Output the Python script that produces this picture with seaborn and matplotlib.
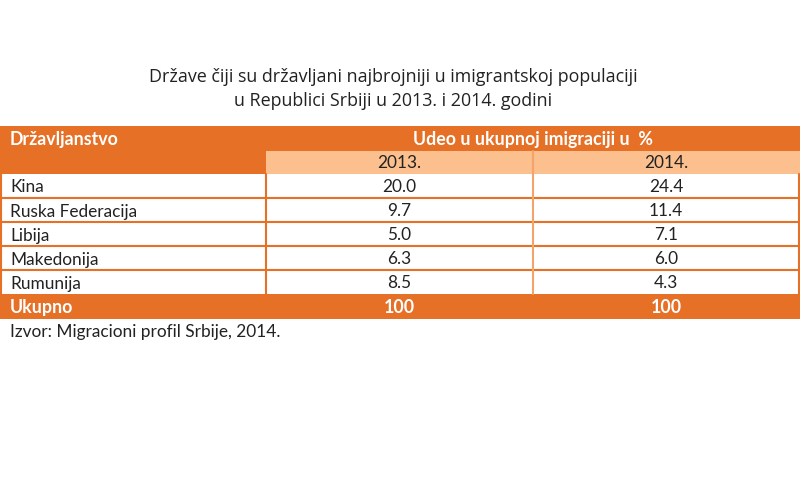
import matplotlib
matplotlib.use("Agg")
import matplotlib.pyplot as plt
from matplotlib.patches import Rectangle
import seaborn as sns

sns.set_theme(style="white")

title_lines = ["Države čiji su državljani najbrojniji u imigrantskoj populaciji",
               "u Republici Srbiji u 2013. i 2014. godini"]
header_first = "Državljanstvo"
header_group = "Udeo u ukupnoj imigraciji u  %"
years = ["2013.", "2014."]
countries = ["Kina", "Ruska Federacija", "Libija", "Makedonija", "Rumunija"]
values_2013 = [20.0, 9.7, 5.0, 6.3, 8.5]
values_2014 = [24.4, 11.4, 7.1, 6.0, 4.3]
total_label = "Ukupno"
totals = ["100", "100"]
source = "Izvor: Migracioni profil Srbije, 2014."

DARK = "#E57026"
LIGHT = "#FBC08E"
MID = "#F3A46C"
TABLE_FONT = "Lato"
TITLE_FONT = "Open Sans"
FS = 12.4
FSB = 12.8
DY = 1.5

fig = plt.figure(figsize=(8, 5), dpi=100)
ax = fig.add_axes([0, 0, 1, 1])
ax.set_xlim(0, 800)
ax.set_ylim(500, 0)
ax.axis("off")

col_x = [0, 266, 533, 799]
col_c = [(col_x[i] + col_x[i + 1]) / 2 for i in range(3)]
top = 126
hdr_h = 24
row_h = 24

# title
for i, line in enumerate(title_lines):
    ax.text(393, 77 + 24 * i, line, ha="center", va="center", fontsize=12.9,
            family=TITLE_FONT, color="#222222")

# header
ax.add_patch(Rectangle((0, top), 800, 2 * hdr_h, color=DARK, lw=0))
ax.add_patch(Rectangle((col_x[1], top + hdr_h + 1), 800 - col_x[1], hdr_h - 1, color=LIGHT, lw=0))
ax.plot([col_x[2], col_x[2]], [top + hdr_h + 1, top + 2 * hdr_h], color=MID, lw=1.5)
ax.text(10, top + hdr_h / 2 + DY, header_first, ha="left", va="center", fontsize=FSB,
        weight="bold", color="white", family=TABLE_FONT)
ax.text(col_x[2], top + hdr_h / 2 + DY, header_group, ha="center", va="center", fontsize=FSB,
        weight="bold", color="white", family=TABLE_FONT)
for j, y in enumerate(years):
    ax.text(col_c[j + 1], top + 1.5 * hdr_h + DY, y, ha="center", va="center", fontsize=FS,
            color="#222222", family=TABLE_FONT)

# data rows
y0 = top + 2 * hdr_h
n = len(countries)
for i, (c, a, b) in enumerate(zip(countries, values_2013, values_2014)):
    yc = y0 + row_h * (i + 0.5) + DY
    ax.text(10, yc, c, ha="left", va="center", fontsize=FS, color="#222222", family=TABLE_FONT)
    ax.text(col_c[1], yc, f"{a:.1f}", ha="center", va="center", fontsize=FS,
            color="#222222", family=TABLE_FONT)
    ax.text(col_c[2], yc, f"{b:.1f}", ha="center", va="center", fontsize=FS,
            color="#222222", family=TABLE_FONT)
    if i > 0:
        ax.plot([0, 800], [y0 + row_h * i, y0 + row_h * i], color=DARK, lw=1.5)

y_end = y0 + row_h * n
ax.plot([col_x[1], col_x[1]], [y0, y_end], color=DARK, lw=1.5)
ax.plot([col_x[2], col_x[2]], [y0, y_end], color=MID, lw=1.5)
ax.plot([col_x[3], col_x[3]], [y0, y_end], color=DARK, lw=1.5)
ax.plot([0.5, 0.5], [y0, y_end], color=DARK, lw=1.5)

# total row
ax.add_patch(Rectangle((0, y_end), 800, row_h + 1, color=DARK, lw=0))
ax.text(10, y_end + row_h / 2 + DY, total_label, ha="left", va="center", fontsize=FSB,
        weight="bold", color="white", family=TABLE_FONT)
for j, t in enumerate(totals):
    ax.text(col_c[j + 1], y_end + row_h / 2 + DY, t, ha="center", va="center", fontsize=FSB,
            weight="bold", color="white", family=TABLE_FONT)

ax.text(10, y_end + row_h + 13 + DY, source, ha="left", va="center", fontsize=FS,
        color="#222222", family=TABLE_FONT)

fig.savefig("out.png", dpi=100, facecolor="white")
